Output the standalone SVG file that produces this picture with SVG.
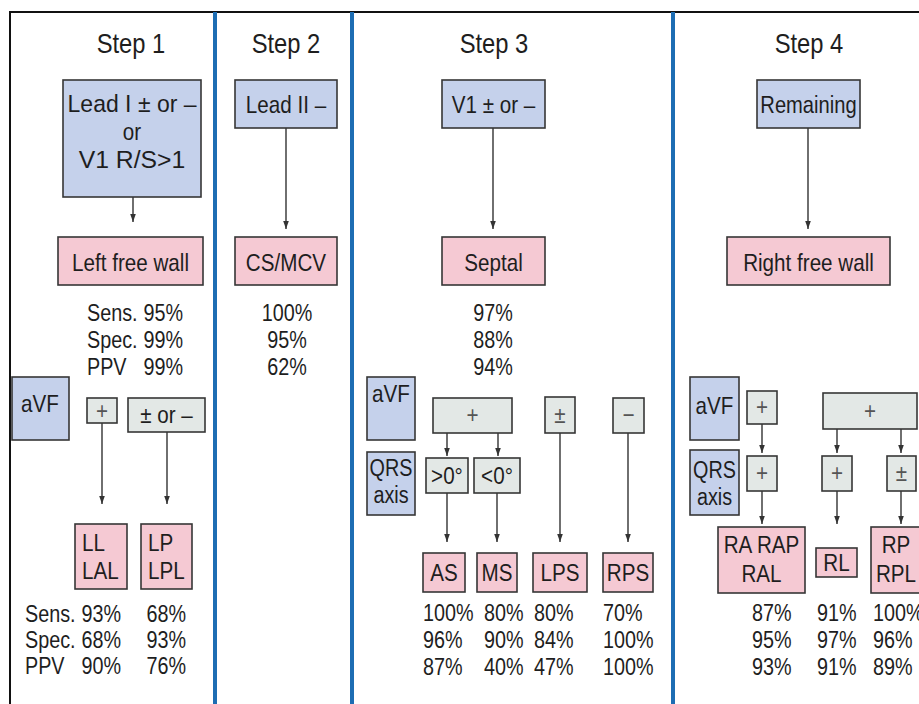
<svg xmlns="http://www.w3.org/2000/svg" width="919" height="704" viewBox="0 0 919 704">
<defs>
<style>
text{font-family:"Liberation Sans",Arial,sans-serif;fill:#1e1e1e;font-size:23px;transform-box:fill-box;transform-origin:left;transform:scaleX(.86)}
.t{font-size:27px;text-anchor:middle;transform-origin:center;transform:scaleX(.88)}
.b{font-size:24px}
.m{text-anchor:middle;transform-origin:center}
.e{text-anchor:end;transform-origin:right}
.g{fill:#555}
.blue{fill:#c5d1eb;stroke:#363636;stroke-width:1.6}
.pink{fill:#f5c9d3;stroke:#363636;stroke-width:1.6}
.gray{fill:#e3e8e6;stroke:#363636;stroke-width:1.6}
.div{stroke:#1d6db3;stroke-width:4}
.frame{stroke:#111;stroke-width:2;fill:none}
.c line{stroke:#333;stroke-width:1.4;marker-end:url(#ah)}
</style>
<marker id="ah" markerUnits="userSpaceOnUse" markerWidth="8" markerHeight="11" refX="10" refY="3.5" orient="auto" viewBox="0 0 10 7">
<path d="M0,0 L10,3.5 L0,7 z" fill="#333"/>
</marker>
</defs>
<rect width="919" height="704" fill="#fff"/>
<g id="frame">
<path class="frame" d="M10,704 V12 H919"/>
<line class="div" x1="215" y1="12" x2="215" y2="704"/>
<line class="div" x1="352" y1="12" x2="352" y2="704"/>
<line class="div" x1="673" y1="12" x2="673" y2="704"/>
</g>
<g id="titles">
<text class="t" x="131" y="53">Step 1</text>
<text class="t" x="286" y="53">Step 2</text>
<text class="t" x="494" y="53">Step 3</text>
<text class="t" x="809" y="53">Step 4</text>
</g>
<g class="c" id="connectors">
<line x1="133" y1="197" x2="133" y2="222"/>
<line x1="286" y1="128" x2="286" y2="229"/>
<line x1="493" y1="128" x2="493" y2="229"/>
<line x1="808" y1="128" x2="808" y2="229"/>
<line x1="102" y1="423" x2="102" y2="504"/>
<line x1="167" y1="432" x2="167" y2="504"/>
<line x1="447" y1="433" x2="447" y2="456"/>
<line x1="498" y1="433" x2="498" y2="456"/>
<line x1="447" y1="493" x2="447" y2="542"/>
<line x1="497" y1="493" x2="497" y2="542"/>
<line x1="560" y1="433" x2="560" y2="542"/>
<line x1="628" y1="433" x2="628" y2="542"/>
<line x1="762" y1="424" x2="762" y2="453"/>
<line x1="762" y1="491" x2="762" y2="524"/>
<line x1="837" y1="429" x2="837" y2="453"/>
<line x1="901" y1="429" x2="901" y2="453"/>
<line x1="837" y1="491" x2="837" y2="524"/>
<line x1="901" y1="491" x2="901" y2="524"/>
</g>
<!-- Step 1 -->
<g id="s1_lead">
<rect class="blue" x="63" y="80" width="138" height="117"/>
<text class="b m" x="132" y="112" textLength="150" lengthAdjust="spacingAndGlyphs">Lead I ± or –</text>
<text class="b m" x="132" y="140">or</text>
<text class="b m" x="132" y="168" textLength="124" lengthAdjust="spacingAndGlyphs">V1 R/S&gt;1</text>
</g>
<g id="s1_lfw">
<rect class="pink" x="58" y="237" width="145" height="48"/>
<text class="b m" x="130.5" y="271">Left free wall</text>
</g>
<g id="s1_stats">
<text x="87" y="321">Sens.</text><text class="e" x="183" y="321">95%</text>
<text x="87" y="348">Spec.</text><text class="e" x="183" y="348">99%</text>
<text x="87" y="375">PPV</text><text class="e" x="183" y="375">99%</text>
</g>
<g id="s1_avf">
<rect class="blue" x="12" y="377" width="57" height="63"/>
<text class="b m" x="40" y="412">aVF</text>
</g>
<g id="s1_plus">
<rect class="gray" x="87" y="398" width="30" height="25"/>
<text class="b m g" x="102" y="419">+</text>
</g>
<g id="s1_pm">
<rect class="gray" x="128" y="398" width="77" height="34"/>
<text class="b m" x="166.5" y="423">± or –</text>
</g>
<g id="s1_ll">
<rect class="pink" x="75" y="524" width="52" height="65"/>
<text class="b" x="82" y="551">LL</text>
<text class="b" x="82" y="579">LAL</text>
</g>
<g id="s1_lp">
<rect class="pink" x="141" y="524" width="51" height="65"/>
<text class="b" x="148" y="551">LP</text>
<text class="b" x="148" y="579">LPL</text>
</g>
<g id="s1_stats2">
<text x="25" y="622">Sens.</text><text class="e" x="121" y="622">93%</text><text class="e" x="186" y="622">68%</text>
<text x="25" y="648">Spec.</text><text class="e" x="121" y="648">68%</text><text class="e" x="186" y="648">93%</text>
<text x="25" y="674">PPV</text><text class="e" x="121" y="674">90%</text><text class="e" x="186" y="674">76%</text>
</g>
<!-- Step 2 -->
<g id="s2_lead">
<rect class="blue" x="235" y="80" width="102" height="48"/>
<text class="b m" x="286" y="113">Lead II –</text>
</g>
<g id="s2_cs">
<rect class="pink" x="235" y="237" width="102" height="48"/>
<text class="b m" x="286" y="271">CS/MCV</text>
</g>
<g id="s2_stats">
<text class="m" x="287" y="321">100%</text>
<text class="m" x="287" y="348">95%</text>
<text class="m" x="287" y="375">62%</text>
</g>
<!-- Step 3 -->
<g id="s3_v1">
<rect class="blue" x="442" y="80" width="103" height="48"/>
<text class="b m" x="493.5" y="113">V1 ± or –</text>
</g>
<g id="s3_septal">
<rect class="pink" x="442" y="237" width="103" height="48"/>
<text class="b m" x="493.5" y="271">Septal</text>
</g>
<g id="s3_stats">
<text class="m" x="493" y="321">97%</text>
<text class="m" x="493" y="348">88%</text>
<text class="m" x="493" y="375">94%</text>
</g>
<g id="s3_avf">
<rect class="blue" x="367" y="377" width="48" height="63"/>
<text class="b m" x="391" y="402">aVF</text>
</g>
<g id="s3_qrs">
<rect class="blue" x="367" y="452" width="48" height="63"/>
<text class="m" x="391" y="476">QRS</text>
<text class="m" x="391" y="503">axis</text>
</g>
<g id="s3_plus">
<rect class="gray" x="433" y="398" width="79" height="35"/>
<text class="b m g" x="472.5" y="423">+</text>
</g>
<g id="s3_gt0">
<rect class="gray" x="426" y="458" width="42" height="35"/>
<text class="b m" x="447" y="484">&gt;0°</text>
</g>
<g id="s3_lt0">
<rect class="gray" x="474" y="458" width="46" height="35"/>
<text class="b m" x="497" y="484">&lt;0°</text>
</g>
<g id="s3_pm">
<rect class="gray" x="545" y="397" width="30" height="36"/>
<text class="b m g" x="560" y="423">±</text>
</g>
<g id="s3_minus">
<rect class="gray" x="613" y="398" width="31" height="35"/>
<text class="b m g" x="628.5" y="423">−</text>
</g>
<g id="s3_as">
<rect class="pink" x="423" y="553" width="42" height="39"/>
<text class="b m" x="444" y="581">AS</text>
</g>
<g id="s3_ms">
<rect class="pink" x="477" y="553" width="40" height="39"/>
<text class="b m" x="497" y="581">MS</text>
</g>
<g id="s3_lps">
<rect class="pink" x="533" y="553" width="54" height="39"/>
<text class="b m" x="560" y="581">LPS</text>
</g>
<g id="s3_rps">
<rect class="pink" x="603" y="553" width="50" height="39"/>
<text class="b m" x="628" y="581">RPS</text>
</g>
<g id="s3_stats2">
<text x="423" y="621">100%</text><text x="484" y="621">80%</text><text x="534" y="621">80%</text><text x="603" y="621">70%</text>
<text x="423" y="648">96%</text><text x="484" y="648">90%</text><text x="534" y="648">84%</text><text x="603" y="648">100%</text>
<text x="423" y="675">87%</text><text x="484" y="675">40%</text><text x="534" y="675">47%</text><text x="603" y="675">100%</text>
</g>
<!-- Step 4 -->
<g id="s4_rem">
<rect class="blue" x="757" y="80" width="103" height="48"/>
<text class="b m" x="808.5" y="113" textLength="112" lengthAdjust="spacingAndGlyphs">Remaining</text>
</g>
<g id="s4_rfw">
<rect class="pink" x="727" y="237" width="163" height="48"/>
<text class="b m" x="808.5" y="271">Right free wall</text>
</g>
<g id="s4_avf">
<rect class="blue" x="690" y="377" width="49" height="63"/>
<text class="b m" x="714.5" y="414">aVF</text>
</g>
<g id="s4_qrs">
<rect class="blue" x="690" y="450" width="49" height="65"/>
<text class="m" x="714.5" y="478">QRS</text>
<text class="m" x="714.5" y="505">axis</text>
</g>
<g id="s4_plus_a">
<rect class="gray" x="747" y="391" width="30" height="33"/>
<text class="b m g" x="762" y="415">+</text>
</g>
<g id="s4_plus_b">
<rect class="gray" x="747" y="456" width="30" height="35"/>
<text class="b m g" x="762" y="481">+</text>
</g>
<g id="s4_ra">
<rect class="pink" x="718" y="527" width="87" height="66"/>
<text class="b m" x="761.5" y="553">RA RAP</text>
<text class="b m" x="761.5" y="582">RAL</text>
</g>
<g id="s4_plus_big">
<rect class="gray" x="823" y="393" width="94" height="36"/>
<text class="b m g" x="870" y="419">+</text>
</g>
<g id="s4_plus_c">
<rect class="gray" x="822" y="456" width="30" height="35"/>
<text class="b m g" x="837" y="481">+</text>
</g>
<g id="s4_pm">
<rect class="gray" x="887" y="456" width="29" height="35"/>
<text class="b m g" x="901.5" y="481">±</text>
</g>
<g id="s4_rl">
<rect class="pink" x="816" y="548" width="41" height="29"/>
<text class="b m" x="836.5" y="571">RL</text>
</g>
<g id="s4_rp">
<rect class="pink" x="871" y="527" width="52" height="66"/>
<text class="b m" x="896" y="553">RP</text>
<text class="b m" x="896" y="582">RPL</text>
</g>
<g id="s4_stats">
<text x="752" y="621">87%</text><text x="817" y="621">91%</text><text x="873" y="621">100%</text>
<text x="752" y="648">95%</text><text x="817" y="648">97%</text><text x="873" y="648">96%</text>
<text x="752" y="675">93%</text><text x="817" y="675">91%</text><text x="873" y="675">89%</text>
</g>
</svg>
